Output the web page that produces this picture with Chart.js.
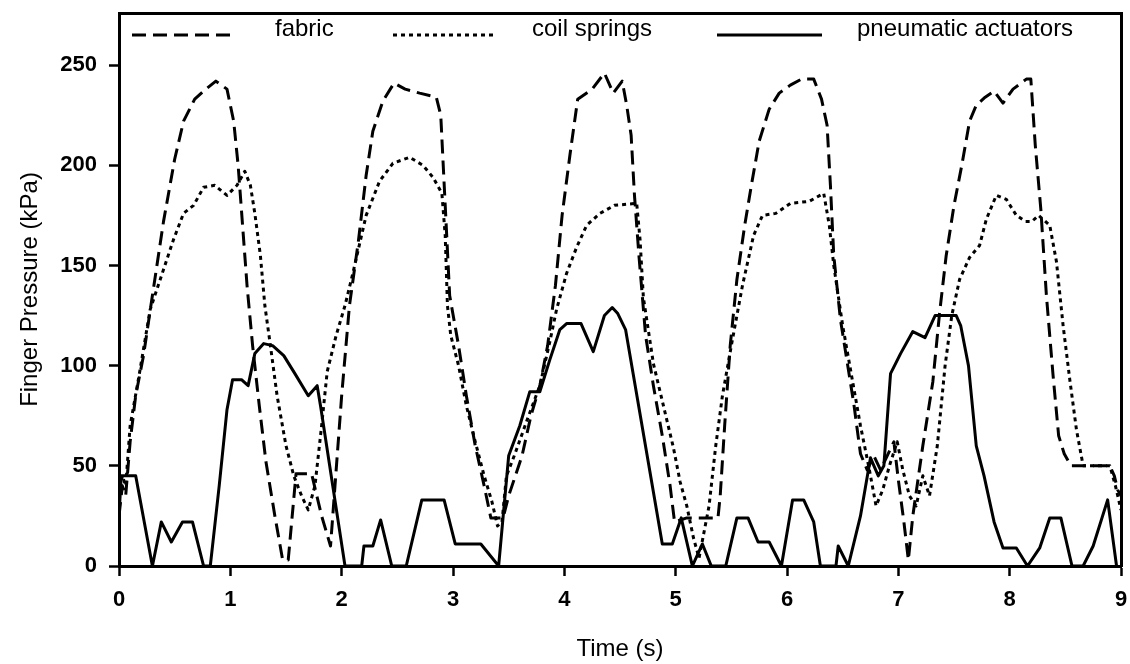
<!DOCTYPE html>
<html><head><meta charset="utf-8">
<script src="https://cdn.jsdelivr.net/npm/chart.js@4.4.0/dist/chart.umd.min.js"></script>
<style>html,body{margin:0;padding:0;background:#fff}#wrap{width:1130px;height:664px}</style>
</head><body><div id="wrap"><canvas id="c" width="1130" height="664"></canvas></div>
<script>
// ---- data ----
const seriesNames = ['fabric', 'coil springs', 'pneumatic actuators'];
const xTicks = [0, 1, 2, 3, 4, 5, 6, 7, 8, 9];
const yTicks = [0, 50, 100, 150, 200, 250];

const fabricTime = [0.00,0.03,0.06,0.10,0.15,0.22,0.30,0.40,0.50,0.58,0.68,0.78,0.87,0.97,1.03,1.07,1.11,1.15,1.20,1.26,1.32,1.40,1.47,1.52,1.59,1.73,1.82,1.90,1.94,2.00,2.07,2.15,2.22,2.28,2.37,2.47,2.57,2.70,2.85,2.89,2.93,2.97,3.05,3.12,3.20,3.28,3.34,3.45,3.50,3.56,3.62,3.70,3.78,3.85,3.92,3.98,4.05,4.12,4.25,4.36,4.44,4.52,4.56,4.60,4.63,4.67,4.73,4.80,4.88,4.95,4.99,5.10,5.38,5.40,5.44,5.49,5.55,5.62,5.68,5.75,5.84,5.93,6.03,6.13,6.24,6.31,6.36,6.39,6.42,6.48,6.54,6.60,6.66,6.72,6.78,6.84,6.90,6.96,7.00,7.05,7.09,7.13,7.22,7.31,7.37,7.43,7.50,7.57,7.64,7.70,7.78,7.86,7.94,8.03,8.15,8.19,8.23,8.28,8.33,8.39,8.44,8.49,8.55,8.90,8.94,8.97,9.00];
const fabricKPa  = [25,40,35,62,85,105,135,172,203,222,233,238,242,238,222,200,170,140,110,80,52,25,3,3,46,46,25,10,40,85,130,162,195,217,232,241,238,236,234,225,180,135,110,85,60,40,24,24,35,45,55,75,90,110,140,175,205,233,238,246,236,242,230,215,185,155,115,90,65,40,22,24,24,35,70,110,143,170,190,212,228,236,240,243,243,233,220,190,155,123,102,81,56,48,55,48,55,62,43,22,3,25,60,92,126,155,180,200,222,230,234,237,231,238,243,243,210,178,135,95,65,56,50,50,45,38,35];

const coilTime = [0.00,0.03,0.06,0.10,0.18,0.28,0.40,0.49,0.58,0.67,0.76,0.86,0.97,1.06,1.13,1.18,1.22,1.27,1.31,1.36,1.42,1.50,1.57,1.64,1.70,1.76,1.82,1.87,1.95,2.03,2.10,2.22,2.34,2.46,2.61,2.73,2.82,2.90,2.93,2.95,2.98,3.05,3.12,3.20,3.28,3.35,3.40,3.44,3.48,3.55,3.66,3.78,3.87,3.93,4.02,4.11,4.20,4.32,4.45,4.65,4.68,4.71,4.80,4.89,4.98,5.04,5.10,5.16,5.21,5.30,5.36,5.42,5.50,5.60,5.70,5.78,5.90,6.03,6.20,6.33,6.38,6.42,6.50,6.58,6.66,6.74,6.80,6.86,6.92,6.99,7.04,7.10,7.16,7.22,7.28,7.35,7.42,7.48,7.55,7.64,7.73,7.79,7.88,7.97,8.06,8.14,8.20,8.26,8.36,8.42,8.48,8.54,8.60,8.66,8.90,8.95,9.00];
const coilKPa  = [35,45,40,70,95,128,148,163,176,180,189,190,185,190,197,190,176,155,130,110,85,60,45,35,28,40,70,97,115,130,146,175,192,201,204,200,194,186,165,130,115,100,80,62,45,32,20,22,45,55,72,90,112,128,146,159,170,176,180,181,163,134,101,80,59,42,30,14,4,30,60,85,110,140,165,175,176,181,182,186,170,150,120,95,70,48,30,38,50,62,48,35,30,45,35,60,100,125,143,154,160,173,185,183,175,172,172,175,170,152,120,93,68,50,50,40,28];

const pneuTime = [0.00,0.02,0.15,0.30,0.38,0.47,0.57,0.66,0.76,0.82,0.90,0.97,1.02,1.10,1.16,1.22,1.30,1.38,1.48,1.58,1.70,1.78,1.81,2.03,2.18,2.20,2.28,2.35,2.45,2.58,2.72,2.92,3.02,3.25,3.41,3.50,3.60,3.69,3.78,3.87,3.96,4.02,4.15,4.26,4.36,4.43,4.48,4.55,4.88,4.97,5.05,5.15,5.24,5.32,5.45,5.55,5.65,5.74,5.84,5.95,6.05,6.15,6.24,6.30,6.44,6.46,6.55,6.66,6.75,6.82,6.87,6.93,7.02,7.13,7.24,7.33,7.52,7.56,7.63,7.70,7.77,7.86,7.94,8.06,8.16,8.27,8.36,8.46,8.56,8.66,8.75,8.88,8.96];
const pneuKPa  = [25,45,45,0,22,12,22,22,0,0,40,78,93,93,90,106,111,110,105,96,85,90,80,0,0,10,10,23,0,0,33,33,11,11,0,55,70,87,87,103,118,121,121,107,125,129,126,118,11,11,24,0,11,0,0,24,24,12,12,0,33,33,22,0,0,10,0,25,54,45,50,96,106,117,114,125,125,120,100,60,45,22,9,9,0,9,24,24,0,0,10,33,0];

const timeSeries = [fabricTime, coilTime, pneuTime];
const kpaSeries = [fabricKPa, coilKPa, pneuKPa];

// ---- styles ----
const FONT = '"Liberation Sans", Arial, Helvetica, sans-serif';
const dashes = [[14, 7], [4, 4], []];

const insideLegend = {
  id: 'insideLegend',
  afterDatasetsDraw(chart, args, opts) {
    const ctx = chart.ctx;
    chart.data.datasets.forEach((ds, i) => {
      const p = opts.items[i];
      ctx.save();
      ctx.strokeStyle = ds.borderColor;
      ctx.lineWidth = ds.borderWidth;
      ctx.setLineDash(ds.borderDash || []);
      ctx.beginPath();
      ctx.moveTo(p.x1, opts.lineY);
      ctx.lineTo(p.x2, opts.lineY);
      ctx.stroke();
      ctx.setLineDash([]);
      ctx.fillStyle = '#000';
      ctx.font = opts.font;
      ctx.textBaseline = 'alphabetic';
      ctx.fillText(ds.label, p.tx, opts.textY);
      ctx.restore();
    });
  }
};

const datasets = seriesNames.map((name, i) => ({
  label: name,
  data: timeSeries[i].map((t, k) => ({ x: t, y: kpaSeries[i][k] })),
  borderColor: '#000',
  backgroundColor: '#000',
  borderWidth: 3,
  borderDash: dashes[i],
  pointRadius: 0,
  tension: 0,
  fill: false,
  borderJoinStyle: 'round'
}));

const tickGrid = { display: true, drawOnChartArea: false, drawTicks: true, tickLength: 10, tickWidth: 2.5, tickColor: '#000', color: '#000' };

new Chart(document.getElementById('c'), {
  type: 'line',
  data: { datasets },
  plugins: [insideLegend],
  options: {
    responsive: false,
    devicePixelRatio: 1,
    animation: false,
    layout: { padding: { left: 0, top: 13, right: 9, bottom: 0 } },
    plugins: {
      legend: { display: false },
      tooltip: { enabled: false },
      insideLegend: {
        lineY: 35, textY: 36,
        font: '24px ' + FONT,
        items: [
          { x1: 132, x2: 232, tx: 275 },
          { x1: 393, x2: 493, tx: 532 },
          { x1: 717, x2: 822, tx: 857 }
        ]
      }
    },
    scales: {
      x: {
        type: 'linear', position: 'bottom', min: 0, max: 9,
        afterBuildTicks: s => { s.ticks = xTicks.map(v => ({ value: v })); },
        afterFit: s => { s.height = 98; s.paddingLeft = 0; s.paddingRight = 0; },
        grid: tickGrid,
        border: { display: true, width: 3, color: '#000' },
        ticks: { color: '#000', padding: 11, font: { family: FONT, size: 22, weight: 'bold' }, maxRotation: 0 },
        title: { display: true, text: 'Time (s)', color: '#000', padding: 0, font: { family: FONT, size: 24 } }
      },
      y: {
        type: 'linear', position: 'left', min: 0, max: 276,
        afterBuildTicks: s => { s.ticks = yTicks.map(v => ({ value: v })); },
        afterFit: s => { s.width = 119; s.paddingTop = 0; s.paddingBottom = 0; },
        grid: tickGrid,
        border: { display: true, width: 3, color: '#000' },
        ticks: { color: '#000', padding: 12, font: { family: FONT, size: 22, weight: 'bold' } },
        title: { display: true, text: 'Finger Pressure (kPa)', color: '#000', padding: { top: 16, bottom: 0 }, font: { family: FONT, size: 24 } }
      },
      xTop: {
        type: 'linear', position: 'top', min: 0, max: 9, display: true,
        grid: { display: false }, ticks: { display: false },
        border: { display: true, width: 3, color: '#000' },
        afterFit: s => { s.height = 0; s.paddingLeft = 0; s.paddingRight = 0; }
      },
      yRight: {
        type: 'linear', position: 'right', min: 0, max: 276, display: true,
        grid: { display: false }, ticks: { display: false },
        border: { display: true, width: 3, color: '#000' },
        afterFit: s => { s.width = 0; s.paddingTop = 0; s.paddingBottom = 0; }
      }
    }
  }
});
</script>
</body></html>
